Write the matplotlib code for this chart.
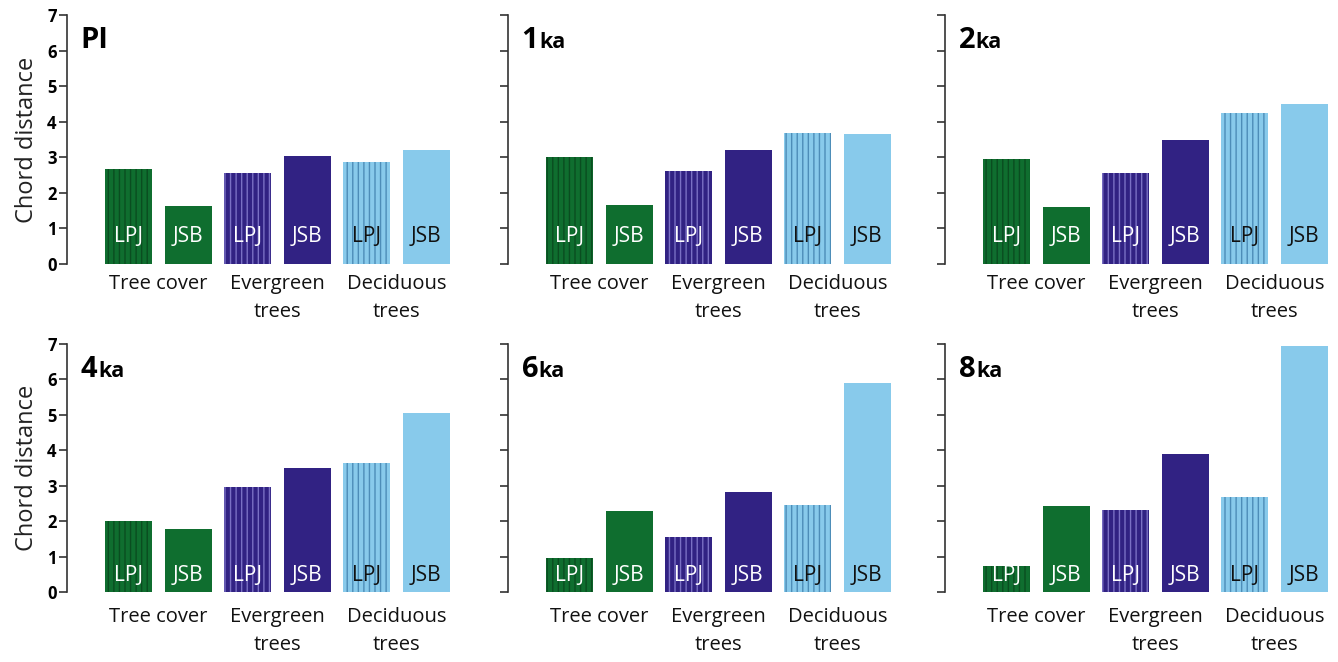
import matplotlib
matplotlib.use("Agg")
import matplotlib.pyplot as plt

plt.rcParams['font.family'] = ['Open Sans', 'DejaVu Sans']
plt.rcParams['hatch.linewidth'] = 1.0

# Chord distances per period: [tree cover, evergreen trees, deciduous trees]
periods = ['PI', '1', '2', '4', '6', '8']
period_suffix = ['', 'ka', 'ka', 'ka', 'ka', 'ka']
categories = ['Tree cover', 'Evergreen\ntrees', 'Deciduous\ntrees']
models = ['LPJ', 'JSB']

pi_lpj = [2.67, 2.57, 2.86]
pi_jsb = [1.64, 3.03, 3.20]
ka1_lpj = [3.01, 2.61, 3.68]
ka1_jsb = [1.67, 3.21, 3.65]
ka2_lpj = [2.96, 2.56, 4.24]
ka2_jsb = [1.61, 3.50, 4.51]
ka4_lpj = [1.99, 2.97, 3.63]
ka4_jsb = [1.78, 3.49, 5.04]
ka6_lpj = [0.96, 1.56, 2.45]
ka6_jsb = [2.29, 2.81, 5.91]
ka8_lpj = [0.72, 2.31, 2.67]
ka8_jsb = [2.44, 3.90, 6.93]

lpj_values = [pi_lpj, ka1_lpj, ka2_lpj, ka4_lpj, ka6_lpj, ka8_lpj]
jsb_values = [pi_jsb, ka1_jsb, ka2_jsb, ka4_jsb, ka6_jsb, ka8_jsb]

y_ticks = [0, 1, 2, 3, 4, 5, 6, 7]

fill_colors = ['#0f6e2f', '#312283', '#88caeb']
hatch_colors = ['#0a4d20', '#7a70c4', '#4d8db8']
label_colors = ['white', 'white', '#111111']

W, H = 1338, 662
fig = plt.figure(figsize=(W / 100, H / 100), dpi=100)

col_left = [67, 508, 945]
ax_width = 386
row_zero = [264, 592]   # pixel row of y = 0
row_top = [15, 344]     # pixel row of y = 7
label_y = [0.78, 0.46]
cat_offset = [0.28, 0.42]

bar_w = 0.79
for i in range(6):
    r, c = divmod(i, 3)
    left = col_left[c] / W
    bottom = (H - row_zero[r]) / H
    height = (row_zero[r] - row_top[r]) / H
    ax = fig.add_axes([left, bottom, ax_width / W, height])
    ax.set_xlim(-1.04, 5.45)
    ax.set_ylim(0, 7)
    ax.patch.set_visible(False)

    for k in range(3):
        xl, xj = 2 * k, 2 * k + 1
        ax.bar(xl, lpj_values[i][k], width=bar_w, color=fill_colors[k],
               edgecolor=hatch_colors[k], linewidth=0, hatch='|||')
        ax.bar(xj, jsb_values[i][k], width=bar_w, color=fill_colors[k],
               linewidth=0)
        for x, m in ((xl, models[0]), (xj, models[1])):
            ax.text(x, label_y[r], m, ha='center', va='center',
                    fontsize=15, color=label_colors[k])
        ax.text(2 * k + 0.5, -cat_offset[r], categories[k], ha='center',
                va='top', fontsize=14.5, color='#111111',
                linespacing=1.55, clip_on=False)

    for s in ('top', 'right', 'bottom'):
        ax.spines[s].set_visible(False)
    ax.spines['left'].set_linewidth(1.2)
    ax.spines['left'].set_color('#333333')
    ax.spines['left'].set_bounds(0, 7)
    ax.set_xticks([])
    ax.set_yticks(y_ticks)
    ax.tick_params(axis='y', length=5.5, width=1.2, color='#333333',
                   pad=2)
    if c == 0:
        ax.set_yticklabels([str(t) for t in y_ticks], fontsize=12,
                           fontweight='bold')
        ax.set_ylabel('Chord distance', fontsize=17, labelpad=6,
                      color='#222222')
    else:
        ax.set_yticklabels([])

    t1 = ax.text(-0.81, 6.07, periods[i], fontsize=21, fontweight='bold',
                 ha='left', va='baseline', color='black')
    if period_suffix[i]:
        ax.annotate(period_suffix[i], xy=(1, 0), xycoords=t1,
                    xytext=(0.5, 1.5), textcoords='offset points',
                    fontsize=15.5, fontweight='bold', ha='left',
                    va='bottom', color='black')

fig.savefig('out.png', dpi=100)
